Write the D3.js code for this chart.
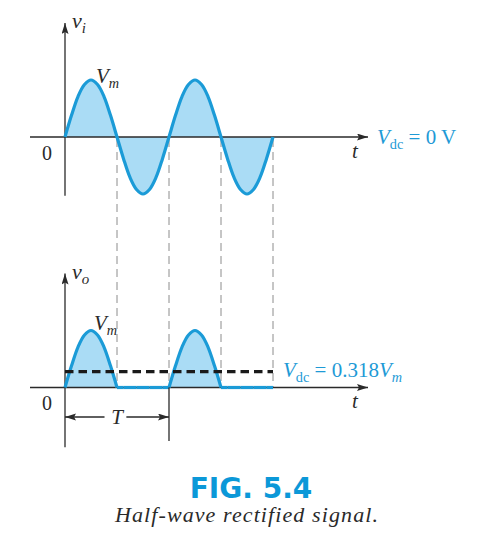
<!DOCTYPE html>
<html>
<head>
<meta charset="utf-8">
<script src="https://cdn.jsdelivr.net/npm/d3@7"></script>
<style>
  body { margin: 0; background: #fff; }
  svg { display: block; }
</style>
</head>
<body>
<script>
// samples every 1/16 of a period, two periods
var viValues = [0, .38, .71, .92, 1, .92, .71, .38, 0, -.38, -.71, -.92, -1, -.92, -.71, -.38,
                0, .38, .71, .92, 1, .92, .71, .38, 0, -.38, -.71, -.92, -1, -.92, -.71, -.38, 0];
var voValues = [0, .38, .71, .92, 1, .92, .71, .38, 0, 0, 0, 0, 0, 0, 0, 0,
                0, .38, .71, .92, 1, .92, .71, .38, 0, 0, 0, 0, 0, 0, 0, 0, 0];
var guideTimes = [0.5, 1, 1.5, 2];   // dashed projections (in periods)
var dcOut = 0.28;                     // drawn level of the dc line
var dcInLabel = "0 V";
var dcOutLabel = "0.318";
var figTitle = "FIG. 5.4";
var figCaption = "Half-wave rectified signal.";

var W = 477, H = 541;
var blue = "#1b9bd7", fillBlue = "#aadcf5", ink = "#2a2a2a", txtBlue = "#1e9ad6";

var svg = d3.select("body").append("svg").attr("width", W).attr("height", H);

var defs = svg.append("defs");
defs.append("marker").attr("id", "arr")
  .attr("markerUnits", "userSpaceOnUse").attr("markerWidth", 12).attr("markerHeight", 8)
  .attr("refX", 11).attr("refY", 3.5).attr("orient", "auto-start-reverse")
  .append("path").attr("d", "M0,0 L11,3.5 L0,7 L2,3.5 z").attr("fill", ink);

var pts = function(vals) { return vals.map(function(v, i) { return {t: i / 16, v: v}; }); };

var x = d3.scaleLinear().domain([0, 2]).range([65, 273]);
var yTop = d3.scaleLinear().domain([-1, 1]).range([194, 80]);
var yBot = d3.scaleLinear().domain([-1, 1]).range([444.5, 330.5]);

function text(g, px, py, parts, color, size) {
  size = size || 20;
  var t = g.append("text").attr("x", px).attr("y", py)
    .attr("font-family", "Liberation Serif, serif").attr("font-size", size)
    .attr("fill", color || ink);
  parts.forEach(function(p) {
    var s = t.append("tspan").text(p.s);
    if (p.i) s.attr("font-style", "italic");
    if (p.sub) s.attr("font-size", size * 0.68).attr("dy", 5);
    if (p.up) s.attr("dy", -5);
  });
  return t;
}

// split at zero points so corners of the rectified wave stay sharp
function pieces(data, split) {
  if (!split) return [data];
  var out = [], cur = [data[0]];
  for (var i = 1; i < data.length; i++) {
    cur.push(data[i]);
    if (data[i].v === 0 && i < data.length - 1) { out.push(cur); cur = [data[i]]; }
  }
  out.push(cur);
  return out;
}

function panel(y, vals, split, ylo, yhi) {
  var g = svg.append("g");
  var data = pts(vals);
  var area = d3.area().x(function(d) { return x(d.t); }).y0(y(0)).y1(function(d) { return y(d.v); })
    .curve(d3.curveCatmullRom);
  var line = d3.line().x(function(d) { return x(d.t); }).y(function(d) { return y(d.v); })
    .curve(d3.curveCatmullRom);
  var ps = pieces(data, split);
  g.selectAll("path.a").data(ps).enter().append("path").attr("class", "a")
    .attr("d", area).attr("fill", fillBlue);
  // axes
  g.append("line").attr("x1", 30).attr("x2", 368).attr("y1", y(0)).attr("y2", y(0))
    .attr("stroke", ink).attr("stroke-width", 1.3).attr("marker-end", "url(#arr)");
  g.append("line").attr("x1", x(0)).attr("x2", x(0)).attr("y1", y(ylo)).attr("y2", y(yhi))
    .attr("stroke", ink).attr("stroke-width", 1.3).attr("marker-end", "url(#arr)");
  g.selectAll("path.l").data(ps).enter().append("path").attr("class", "l")
    .attr("d", line).attr("fill", "none").attr("stroke", blue).attr("stroke-width", 3.2)
    .attr("stroke-linejoin", "round");
  return g;
}

// projection guides (behind)
svg.selectAll("line.guide").data(guideTimes).enter().append("line").attr("class", "guide")
  .attr("x1", function(d) { return x(d); }).attr("x2", function(d) { return x(d); })
  .attr("y1", yTop(0) + 2).attr("y2", yBot(0))
  .attr("stroke", "#8c8c8c").attr("stroke-width", 1).attr("stroke-dasharray", "8,5");

var topG = panel(yTop, viValues, false, -1.03, 2.0);
var botG = panel(yBot, voValues, true, -1.05, 2.0);

// dc level of output
botG.append("line").attr("x1", x(0)).attr("x2", x(2)).attr("y1", yBot(dcOut)).attr("y2", yBot(dcOut))
  .attr("stroke", "#1a1a1a").attr("stroke-width", 3.2).attr("stroke-dasharray", "8.5,5");

// period marker
botG.append("line").attr("x1", x(1)).attr("x2", x(1)).attr("y1", yBot(0)).attr("y2", 441)
  .attr("stroke", ink).attr("stroke-width", 1.3);
botG.append("line").attr("x1", x(0.38)).attr("x2", x(0)).attr("y1", 417).attr("y2", 417)
  .attr("stroke", ink).attr("stroke-width", 1.3).attr("marker-end", "url(#arr)");
botG.append("line").attr("x1", x(0.59)).attr("x2", x(1)).attr("y1", 417).attr("y2", 417)
  .attr("stroke", ink).attr("stroke-width", 1.3).attr("marker-end", "url(#arr)");
text(botG, x(0.5), 424, [{s: "T", i: 1}], ink, 21).attr("text-anchor", "middle");

// labels
text(topG, 72, 28, [{s: "v", i: 1}, {s: "i", i: 1, sub: 1}], ink, 22);
text(topG, 96, 83, [{s: "V", i: 1}, {s: "m", i: 1, sub: 1}], ink, 21);
text(topG, 42, 160, [{s: "0"}], ink, 20);
text(topG, 352, 158, [{s: "t", i: 1}], ink, 21);
text(topG, 377, 144, [{s: "V", i: 1}, {s: "dc", sub: 1}, {s: " = " + dcInLabel, up: 1}], txtBlue, 21);

text(botG, 72, 279, [{s: "v", i: 1}, {s: "o", i: 1, sub: 1}], ink, 22);
text(botG, 94, 330, [{s: "V", i: 1}, {s: "m", i: 1, sub: 1}], ink, 21);
text(botG, 42, 410, [{s: "0"}], ink, 20);
text(botG, 352, 408, [{s: "t", i: 1}], ink, 21);
text(botG, 283, 377, [{s: "V", i: 1}, {s: "dc", sub: 1}, {s: " = " + dcOutLabel, up: 1}, {s: "V", i: 1}, {s: "m", i: 1, sub: 1}], txtBlue, 21);

// caption
svg.append("text").attr("x", 251).attr("y", 498).attr("text-anchor", "middle")
  .attr("font-family", "DejaVu Sans, sans-serif").attr("font-weight", "bold")
  .attr("font-size", 28).attr("fill", "#0b98d8").text(figTitle);
svg.append("text").attr("x", 247).attr("y", 522).attr("text-anchor", "middle")
  .attr("font-family", "Liberation Serif, serif").attr("font-style", "italic")
  .attr("font-size", 22).attr("letter-spacing", 1.1).attr("fill", ink).text(figCaption);
</script>
</body>
</html>
